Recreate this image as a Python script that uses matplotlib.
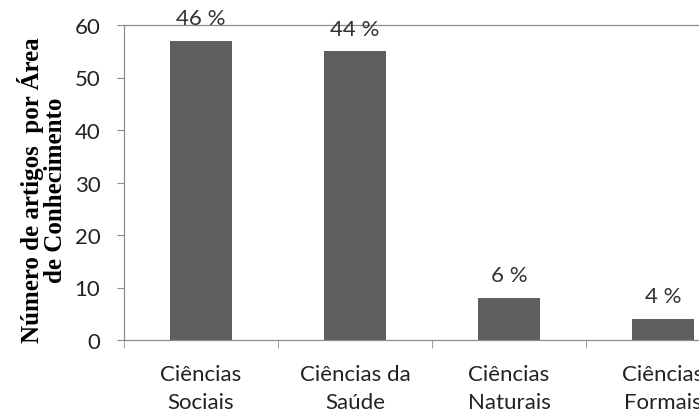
import matplotlib.pyplot as plt

categories = ["Ciências\nSociais", "Ciências da\nSaúde", "Ciências\nNaturais", "Ciências\nFormais"]
artigos = [57, 55, 8, 4]
percentuais = ["46 %", "44 %", "6 %", "4 %"]

bar_color = "#5f5f5f"
axis_color = "#8c8c8c"
fs = 16

fig = plt.figure(figsize=(6.99, 4.14), dpi=100)
# plot area runs past the right edge, so the last label gets cut
ax = fig.add_axes([124 / 699, 73 / 414, 616 / 699, 315 / 414])

x = list(range(len(categories)))
ax.bar(x, artigos, width=0.4, color=bar_color, zorder=2)

for xi, v, p in zip(x, artigos, percentuais):
    ax.annotate(p, (xi, v), xytext=(0, 12), textcoords="offset points",
                ha="center", va="baseline", fontsize=fs, color="#333333",
                family="Lato")

ax.set_xlim(-0.5, 3.5)
ax.set_ylim(0, 60)
ax.set_yticks(range(0, 61, 10))
ax.set_xticks(x)
ax.set_xticklabels(categories, fontsize=fs, family="Lato", linespacing=1.5,
                   color="#222222")
ax.set_xticks([-0.5, 0.5, 1.5, 2.5], minor=True)
ax.tick_params(axis="x", which="major", length=0, pad=17)
ax.tick_params(axis="x", which="minor", length=6, color=axis_color, direction="out")
ax.tick_params(axis="y", length=5, color=axis_color, labelsize=fs, pad=12,
               labelcolor="#222222")
for lbl in ax.get_yticklabels():
    lbl.set_family("Lato")

ax.spines["right"].set_visible(False)
for side in ["left", "bottom", "top"]:
    ax.spines[side].set_color(axis_color)
    ax.spines[side].set_linewidth(0.9)

fig.text(42 / 699, 0.541, "Número de artigos  por Área\nde Conhecimento",
         rotation=90, ha="center", va="center", multialignment="center",
         fontsize=18, fontweight="bold", family="Liberation Serif", linespacing=0.95)

fig.savefig("out.png", dpi=100)
